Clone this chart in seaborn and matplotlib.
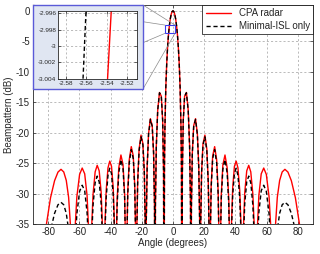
import numpy as np
import pandas as pd
import matplotlib
matplotlib.use("Agg")
import matplotlib.pyplot as plt
from matplotlib.patches import Rectangle, ConnectionPatch
from matplotlib.ticker import FuncFormatter
import seaborn as sns

# beampattern (angle in degrees, level in dB)
angle_deg = [
    -90.00, -81.89, -78.52, -75.93, -73.74, -71.81, -70.05, -68.43, -66.93, -65.51,
    -64.16, -62.88, -61.64, -59.88, -58.21, -56.61, -55.09, -54.10,
    -53.13, -52.19, -51.26, -49.91, -48.59, -47.31, -46.05, -45.24,
    -44.43, -43.63, -42.84, -41.68, -40.54, -39.41, -38.32, -37.59,
    -36.87, -36.51, -35.80, -34.75, -33.37, -32.01, -31.00, -30.33,
    -30.00, -29.67, -29.01, -28.03, -26.74, -25.47, -24.52, -23.89,
    -23.58, -23.27, -22.65, -21.72, -20.49, -19.27, -18.36, -17.76,
    -17.46, -17.16, -16.56, -15.66, -14.48, -13.30, -12.42, -11.83,
    -11.54, -11.25, -10.66, -9.79, -8.63, -7.47, -6.60, -6.03,
    -5.74, -5.45, -5.16, -4.59, -4.01, -3.44, -2.87, -2.29, -1.72, -1.15, -0.57,
    0.00,
    0.57, 1.15, 1.72, 2.29, 2.87, 3.44, 4.01, 4.59, 5.16, 5.45, 5.74,
    6.03, 6.60, 7.47, 8.63, 9.79, 10.66, 11.25, 11.54,
    11.83, 12.42, 13.30, 14.48, 15.66, 16.56, 17.16, 17.46,
    17.76, 18.36, 19.27, 20.49, 21.72, 22.65, 23.27, 23.58,
    23.89, 24.52, 25.47, 26.74, 28.03, 29.01, 29.67, 30.00,
    30.33, 31.00, 32.01, 33.37, 34.75, 35.80, 36.51, 36.87,
    37.59, 38.32, 39.41, 40.54, 41.68, 42.84, 43.63, 44.43,
    45.24, 46.05, 47.31, 48.59, 49.91, 51.26, 52.19, 53.13,
    54.10, 55.09, 56.61, 58.21, 59.88, 61.64, 62.88, 64.16,
    65.51, 66.93, 68.43, 70.05, 71.81, 73.74, 75.93, 78.52, 81.89, 90.00,
]

cpa_db = [
    -60, -36.22, -30.64, -27.85, -26.44, -25.99, -26.42, -27.81, -30.57, -36.13,
    -60, -36.09, -30.49, -26.82, -25.78, -26.73, -30.29, -35.83,
    -60, -35.74, -30.11, -26.41, -25.33, -26.25, -29.77, -35.29,
    -60, -35.15, -29.49, -25.76, -24.64, -25.51, -28.99, -34.48,
    -60, -40.24, -30.89, -25.71, -23.64, -25.24, -30.07, -39.19,
    -60, -39.05, -29.66, -24.42, -22.27, -23.78, -28.54, -37.61,
    -60, -37.42, -27.98, -22.65, -20.38, -21.76, -26.41, -35.40,
    -60, -35.14, -25.61, -20.15, -17.68, -18.83, -23.29, -32.14,
    -60, -31.72, -22.02, -16.29, -13.39, -14.00, -17.97, -26.44,
    -60, -25.58, -19.20, -12.60, -8.67, -5.93, -3.91, -2.41, -1.32, -0.58, -0.14,
    0.0,
    -0.14, -0.58, -1.32, -2.41, -3.91, -5.93, -8.67, -12.60, -19.20, -25.58, -60,
    -26.44, -17.97, -14.00, -13.39, -16.29, -22.02, -31.72, -60,
    -32.14, -23.29, -18.83, -17.68, -20.15, -25.61, -35.14, -60,
    -35.40, -26.41, -21.76, -20.38, -22.65, -27.98, -37.42, -60,
    -37.61, -28.54, -23.78, -22.27, -24.42, -29.66, -39.05, -60,
    -39.19, -30.07, -25.24, -23.64, -25.71, -30.89, -40.24, -60,
    -34.48, -28.99, -25.51, -24.64, -25.76, -29.49, -35.15, -60,
    -35.29, -29.77, -26.25, -25.33, -26.41, -30.11, -35.74, -60,
    -35.83, -30.29, -26.73, -25.78, -26.82, -30.49, -36.09, -60,
    -36.13, -30.57, -27.81, -26.42, -25.99, -26.44, -27.85, -30.64, -36.22, -60,
]

isl_db = [
    -60, -41.6, -36.0, -33.2, -31.8, -31.4, -31.8, -33.2, -35.9, -41.5,
    -60, -38.9, -33.3, -29.6, -28.6, -29.5, -33.1, -38.6,
    -60, -37.5, -31.9, -28.2, -27.1, -28.05, -31.6, -37.1,
    -60, -36.4, -30.7, -27.0, -25.8, -26.7, -30.2, -35.7,
    -60, -41.19, -31.80, -26.56, -24.42, -25.96, -30.74, -39.83,
    -60, -39.65, -30.24, -24.96, -22.76, -24.22, -28.95, -38.00,
    -60, -37.78, -28.33, -22.97, -20.66, -22.01, -26.64, -35.61,
    -60, -35.33, -25.79, -20.31, -17.82, -18.95, -23.39, -32.23,
    -60, -31.80, -22.09, -16.35, -13.44, -14.04, -18.00, -26.46,
    -60, -25.60, -19.21, -12.61, -8.67, -5.93, -3.91, -2.41, -1.32, -0.58, -0.14,
    0.0,
    -0.14, -0.58, -1.32, -2.41, -3.91, -5.93, -8.67, -12.61, -19.21, -25.60, -60,
    -26.46, -18.00, -14.04, -13.44, -16.35, -22.09, -31.80, -60,
    -32.23, -23.39, -18.95, -17.82, -20.31, -25.79, -35.33, -60,
    -35.61, -26.64, -22.01, -20.66, -22.97, -28.33, -37.78, -60,
    -38.00, -28.95, -24.22, -22.76, -24.96, -30.24, -39.65, -60,
    -39.83, -30.74, -25.96, -24.42, -26.56, -31.80, -41.19, -60,
    -35.7, -30.2, -26.7, -25.8, -27.0, -30.7, -36.4, -60,
    -37.1, -31.6, -28.05, -27.1, -28.2, -31.9, -37.5, -60,
    -38.6, -33.1, -29.5, -28.6, -29.6, -33.3, -38.9, -60,
    -41.5, -35.9, -33.2, -31.8, -31.4, -31.8, -33.2, -36.0, -41.6, -60,
]

# zoomed view around the -3 dB point
zoom_cpa_x = [-2.5393, -2.5357]
zoom_cpa_y = [-3.004, -2.9957]
zoom_isl_x = [-2.5633, -2.5604]
zoom_isl_y = [-3.004, -2.9957]

main_xticks = [-80, -60, -40, -20, 0, 20, 40, 60, 80]
main_yticks = [-35, -30, -25, -20, -15, -10, -5, 0]
zoom_xticks = [-2.58, -2.56, -2.54, -2.52]
zoom_yticks = [-3.004, -3.002, -3.0, -2.998, -2.996]

sns.set_style("ticks")
plt.rcParams["font.family"] = ["Liberation Sans", "DejaVu Sans"]
plt.rcParams["axes.unicode_minus"] = False

df = pd.DataFrame({"angle": angle_deg, "cpa": cpa_db, "isl": isl_db})
zoom_df = pd.DataFrame({"x_cpa": zoom_cpa_x, "y_cpa": zoom_cpa_y,
                        "x_isl": zoom_isl_x, "y_isl": zoom_isl_y})

fig = plt.figure(figsize=(3.2, 2.54), dpi=100)
ax = fig.add_axes([0.102, 0.117, 0.877, 0.8645])

grid_kw = dict(linestyle=(0, (2.5, 2.5)), color="#b0b0b0", linewidth=0.6)

sns.lineplot(data=df, x="angle", y="cpa", color="red", lw=1.0, sort=False,
             estimator=None, label="CPA radar", ax=ax)
sns.lineplot(data=df, x="angle", y="isl", color="black", lw=1.0, sort=False,
             estimator=None, linestyle=(0, (3, 2)), label="Minimal-ISL only", ax=ax)

ax.set_xlim(-90, 90)
ax.set_ylim(-35, 1)
ax.set_xticks(main_xticks)
ax.set_yticks(main_yticks)
ax.grid(True, **grid_kw)
ax.tick_params(direction="in", length=2.5, width=0.5, labelsize=7, top=True,
               right=True, pad=2)
for s in ax.spines.values():
    s.set_linewidth(0.6)
ax.set_xlabel("Angle (degrees)", fontsize=7, labelpad=1)
ax.set_ylabel("Beampattern (dB)", fontsize=7, labelpad=1)

leg = ax.legend(loc="upper right", fontsize=7, frameon=True, fancybox=False,
                edgecolor="black", framealpha=1, borderaxespad=0,
                handlelength=2.6, borderpad=0.35, labelspacing=0.3)
leg.get_frame().set_linewidth(0.5)

# small box that marks the zoomed spot
box_x0, box_y0, box_w, box_h = -5.1, -3.7, 6.4, 1.36
ax.add_patch(Rectangle((box_x0, box_y0), box_w, box_h, fill=False,
                       ec="#3a3aee", lw=0.8, zorder=5))

# panel holding the inset
px0, py0, pw, ph = 0.1031, 0.6496, 0.3438, 0.3307
box_corners = [(box_x0, box_y0 + box_h), (box_x0 + box_w, box_y0 + box_h),
               (box_x0, box_y0), (box_x0 + box_w, box_y0)]
panel_corners = [(px0, py0 + ph), (px0 + pw, py0 + ph), (px0, py0), (px0 + pw, py0)]
for bc, pc in zip(box_corners, panel_corners):
    con = ConnectionPatch(xyA=bc, coordsA="data", axesA=ax, xyB=pc,
                          coordsB="figure fraction", color="#8a8a8a", lw=0.5)
    con.set_zorder(1)
    fig.add_artist(con)

panel = Rectangle((px0, py0), pw, ph, transform=fig.transFigure,
                  fc="#e0e6f2", ec="#5a5ad8", lw=1.0, zorder=2)
fig.add_artist(panel)

axin = fig.add_axes([0.1822, 0.6902, 0.2469, 0.2665], zorder=3)
sns.lineplot(data=zoom_df, x="x_cpa", y="y_cpa", color="red", lw=1.0,
             sort=False, estimator=None, ax=axin)
sns.lineplot(data=zoom_df, x="x_isl", y="y_isl", color="black", lw=1.0,
             sort=False, estimator=None, linestyle=(0, (3, 2)), ax=axin)
axin.set_xlim(-2.5875, -2.5102)
axin.set_ylim(-3.004, -2.9957)
axin.set_xticks(zoom_xticks)
axin.set_yticks(zoom_yticks)
axin.xaxis.set_major_formatter(FuncFormatter(lambda v, p: f"{v:g}"))
axin.yaxis.set_major_formatter(FuncFormatter(lambda v, p: f"{v:g}"))
axin.grid(True, **grid_kw)
axin.tick_params(direction="in", length=2, width=0.5, labelsize=4.6,
                 top=True, right=True, pad=1.5)
for s in axin.spines.values():
    s.set_linewidth(0.6)
axin.set_xlabel("")
axin.set_ylabel("")

fig.savefig("out.png", dpi=100)
